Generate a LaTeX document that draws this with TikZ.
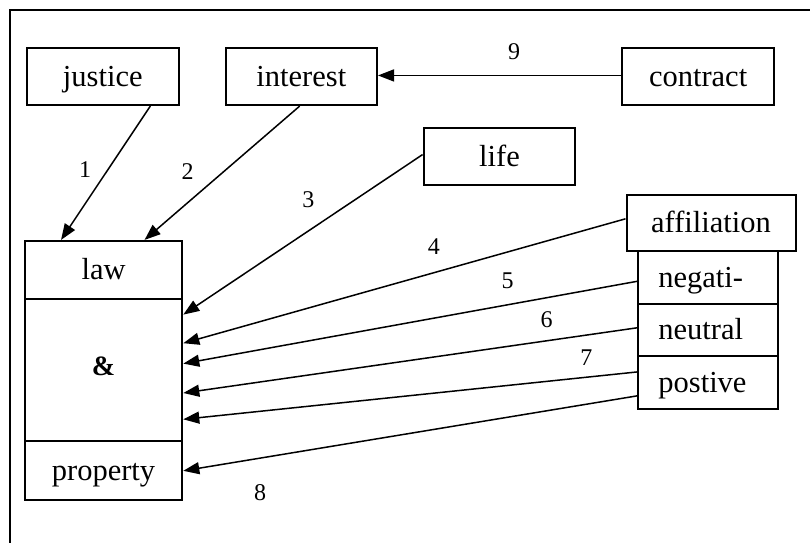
\documentclass[tikz,border=0pt]{standalone}
\usepackage{fontspec}
\setmainfont{Liberation Serif}
\usetikzlibrary{arrows.meta}
\begin{document}
\begin{tikzpicture}[x=1pt,y=-1pt,
  box/.style={draw,line width=2pt,inner sep=0pt,minimum height=56.7pt,
    text height=20pt,text depth=0pt,font=\fontsize{30.5}{36}\selectfont},
  leftbox/.style={box,minimum height=52.5pt,text width=99.5pt,align=left,inner xsep=20pt},
  stackbox/.style={box,minimum width=157.5pt},
  num/.style={inner sep=0pt,font=\fontsize{24}{28}\selectfont},
  conn/.style={line width=1.5pt,-{Triangle[length=16pt,width=12pt]}}]
\useasboundingbox (0,0) rectangle (810,542);
\fill[white] (0,0) rectangle (810,542);
\draw[line width=2pt] (9.5,9.5) rectangle (830,570);

\node[box,minimum width=151.8pt] (justice) at (102.8,76.75) {justice};
\node[box,minimum width=151.3pt] (interest) at (301.35,76.75) {interest};
\node[box,minimum width=151.4pt] (contract) at (698.1,76.75) {contract};
\node[box,minimum width=151.8pt] (life) at (499.5,156.55) {life};

\node[leftbox] (neg) at (708.15,277.25) {negati-};
\node[leftbox] (neu) at (708.15,329.75) {neutral};
\node[leftbox] (pos) at (708.15,382.3) {postive};
\node[box,minimum width=169pt,minimum height=56.4pt,fill=white] (aff) at (711,222.8) {affiliation};

\node[stackbox,minimum height=58.1pt] (law) at (103.55,269.95) {law};
\node[stackbox,minimum height=142.4pt,text height=10pt,font=\fontsize{28}{32}\selectfont\bfseries] (mid) at (103.55,370.2) {\&};
\node[stackbox,minimum height=58.8pt] (property) at (103.55,470.8) {property};

\draw[conn] ([xshift=47.5pt]justice.south) -- ([xshift=-42.5pt]law.north);
\draw[conn] ([xshift=-1.7pt]interest.south) -- ([xshift=41pt]law.north);
\draw[conn] ([yshift=2pt]life.west) -- ([yshift=55.6pt]mid.east);
\draw[conn] ([yshift=4pt]aff.west) -- ([yshift=27pt]mid.east);
\draw[conn] ([yshift=-4pt]neg.west) -- ([yshift=6.6pt]mid.east);
\draw[conn] ([yshift=2pt]neu.west) -- ([yshift=-22.8pt]mid.east);
\draw[conn] ([yshift=10.4pt]pos.west) -- ([yshift=-49.1pt]mid.east);
\draw[conn] ([yshift=-13.5pt]pos.west) -- (property.east);
\draw[conn] ([yshift=1.3pt]contract.west) -- ([yshift=1.3pt]interest.east);

\node[num] (n1) at (85,169.2) {1};
\node[num] (n2) at (187.5,171.8) {2};
\node[num] (n3) at (308.4,199.8) {3};
\node[num] (n4) at (433.9,246.1) {4};
\node[num] (n5) at (507.7,281) {5};
\node[num] (n6) at (546.5,319.7) {6};
\node[num] (n7) at (586.3,358) {7};
\node[num] (n8) at (260,492.5) {8};
\node[num] (n9) at (514,51.7) {9};
\end{tikzpicture}
\end{document}
